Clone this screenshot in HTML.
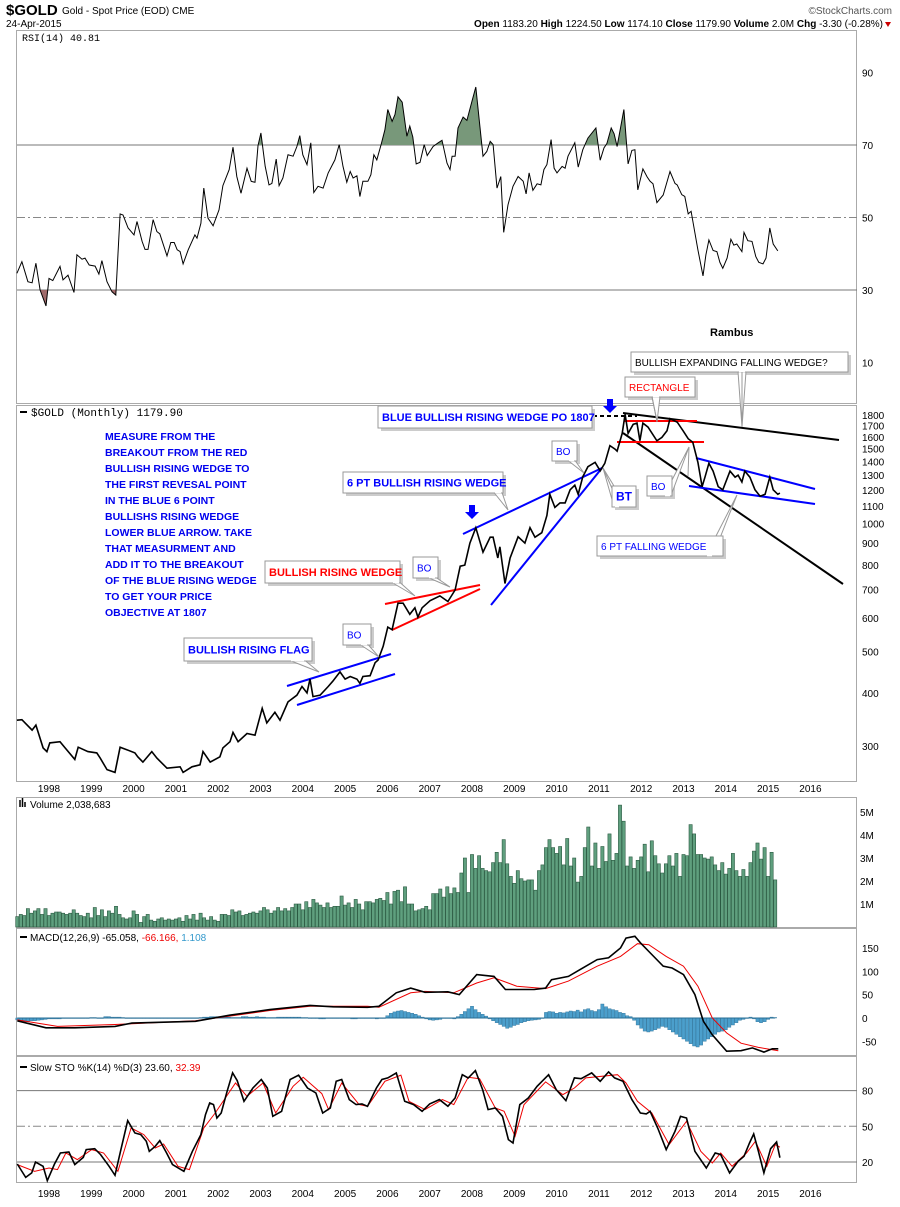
<!DOCTYPE html>
<html><head><meta charset="utf-8"><style>
body{margin:0;background:#fff;}
svg{display:block;font-family:"Liberation Sans",sans-serif;}
</style></head><body>
<svg id="c" width="900" height="1207" viewBox="0 0 900 1207"></svg>
<script>
// ---------- data ----------
const priceDates=[1997.24,1997.36,1997.60,1997.69,1997.86,1997.95,1998.02,1998.26,1998.38,1998.61,1998.69,1998.92,1999.13,1999.21,1999.37,1999.56,1999.68,1999.84,2000.03,2000.10,2000.22,2000.43,2000.55,2000.79,2001.10,2001.17,2001.38,2001.57,2001.64,2001.81,2002.04,2002.11,2002.28,2002.35,2002.47,2002.68,2002.87,2003.04,2003.15,2003.34,2003.46,2003.65,2003.86,2003.98,2004.10,2004.17,2004.24,2004.41,2004.60,2004.71,2004.88,2005.00,2005.12,2005.28,2005.35,2005.42,2005.59,2005.71,2005.78,2005.90,2006.01,2006.11,2006.25,2006.37,2006.53,2006.65,2006.72,2006.82,2007.01,2007.24,2007.43,2007.60,2007.72,2007.83,2007.95,2008.09,2008.26,2008.43,2008.50,2008.61,2008.66,2008.78,2008.90,2009.09,2009.25,2009.37,2009.49,2009.65,2009.77,2009.84,2009.96,2010.08,2010.20,2010.32,2010.43,2010.51,2010.62,2010.74,2010.91,2011.03,2011.14,2011.26,2011.38,2011.43,2011.55,2011.62,2011.69,2011.81,2011.90,2011.97,2012.04,2012.16,2012.37,2012.49,2012.61,2012.68,2012.85,2012.99,2013.11,2013.22,2013.34,2013.44,2013.51,2013.60,2013.70,2013.82,2013.93,2014.10,2014.22,2014.29,2014.38,2014.45,2014.57,2014.69,2014.81,2014.93,2015.04,2015.12,2015.23,2015.28];
const priceValues=[345,346,327,336,297,291,305,307,297,279,298,291,289,281,264,260,298,294,289,283,275,291,281,266,268,260,268,271,291,275,283,297,307,323,307,321,318,368,340,360,345,381,395,414,400,431,392,395,414,426,448,431,437,431,421,437,439,471,478,515,571,563,650,650,612,634,603,634,659,676,656,698,794,799,900,978,857,929,929,830,882,723,830,931,900,978,929,952,1045,1172,1092,1119,1119,1201,1231,1172,1289,1361,1394,1331,1386,1526,1497,1481,1630,1807,1630,1712,1723,1566,1723,1686,1566,1595,1653,1766,1733,1653,1584,1553,1394,1222,1289,1386,1329,1222,1201,1329,1286,1300,1253,1329,1286,1201,1160,1172,1286,1201,1172,1180];
const rsiDates=[1997.24,1997.36,1997.50,1997.60,1997.69,1997.79,1997.93,1998.00,1998.09,1998.26,1998.33,1998.45,1998.59,1998.66,1998.78,1998.85,1998.95,1999.09,1999.18,1999.25,1999.37,1999.49,1999.58,1999.68,1999.75,1999.87,2000.01,2000.08,2000.20,2000.27,2000.34,2000.46,2000.55,2000.62,2000.79,2000.88,2000.96,2001.03,2001.10,2001.17,2001.29,2001.45,2001.50,2001.59,2001.66,2001.76,2001.88,2002.02,2002.11,2002.26,2002.35,2002.44,2002.54,2002.68,2002.78,2002.87,2002.94,2003.01,2003.11,2003.20,2003.27,2003.37,2003.44,2003.53,2003.65,2003.77,2003.86,2003.93,2004.00,2004.10,2004.19,2004.26,2004.36,2004.48,2004.60,2004.76,2004.86,2004.95,2005.04,2005.12,2005.19,2005.28,2005.35,2005.42,2005.54,2005.61,2005.68,2005.75,2005.85,2005.94,2006.01,2006.11,2006.18,2006.25,2006.35,2006.46,2006.53,2006.60,2006.68,2006.77,2006.87,2006.94,2007.08,2007.20,2007.29,2007.41,2007.48,2007.53,2007.60,2007.67,2007.79,2007.88,2008.00,2008.09,2008.26,2008.35,2008.43,2008.50,2008.59,2008.68,2008.75,2008.85,2008.97,2009.09,2009.21,2009.28,2009.35,2009.44,2009.54,2009.63,2009.70,2009.77,2009.87,2009.94,2010.01,2010.13,2010.20,2010.27,2010.43,2010.51,2010.62,2010.74,2010.93,2011.03,2011.12,2011.19,2011.29,2011.36,2011.43,2011.59,2011.69,2011.78,2011.85,2011.92,2012.04,2012.14,2012.21,2012.28,2012.37,2012.52,2012.68,2012.80,2012.85,2012.96,2013.03,2013.11,2013.18,2013.34,2013.46,2013.53,2013.60,2013.70,2013.79,2013.86,2013.93,2014.03,2014.12,2014.19,2014.26,2014.38,2014.43,2014.52,2014.62,2014.71,2014.78,2014.88,2014.95,2015.04,2015.12,2015.23];
const rsiValues=[34.6,37.8,32.3,32.0,37.4,30,25.6,33.2,32.6,36.5,32.8,34.1,29.3,39.7,38.5,38.8,36.9,36.6,34.4,38.1,32.3,29.5,28.6,51.0,50.7,47.1,45.2,48.9,43.4,41.2,41.2,49.4,46.1,45.5,39.4,43.1,43.1,41.1,40.6,37.2,41.1,45.2,44.3,48.4,58.1,49.8,47.7,52.1,58.8,63.2,69.4,61.3,56.7,63.6,60.0,59.7,69.8,73.3,64.1,59.0,59.4,66.1,58.8,60.9,67.3,66.9,69.6,72.6,67.3,64.6,70.6,56.9,58.6,58.1,62.3,65.9,70.1,64.1,59.7,62.7,60.9,61.5,55.8,60.0,60.0,61.8,67.3,65.9,70.1,74.2,79.8,76.5,78.4,83.3,81.8,72.4,75.2,72.2,64.8,65.2,70.1,67.1,69.6,70.6,71.3,65.0,63.2,66.9,66.9,74.7,77.7,76.8,82.1,86.0,66.9,68.2,71.0,70.1,58.1,61.3,45.9,53.5,58.6,61.3,60.0,56.5,62.3,57.5,59.3,59.0,63.2,64.6,71.5,63.6,62.3,64.1,63.6,66.9,70.6,63.9,68.7,71.9,74.7,65.8,69.2,70.4,74.7,73.1,69.6,79.8,64.8,68.5,68.7,57.6,63.4,61.2,60.0,59.3,54.1,56.2,62.7,59.4,59.0,56.3,55.8,51.0,51.7,41.1,33.9,39.7,43.8,40.9,40.6,37.6,36.0,38.8,44.0,42.4,42.7,40.6,45.9,43.6,43.4,39.2,37.6,37.2,38.8,47.1,42.7,40.8];
const volStart=1997.25;
const volumeM=[0.45,0.55,0.5,0.8,0.6,0.7,0.8,0.55,0.8,0.5,0.6,0.65,0.65,0.6,0.55,0.6,0.75,0.6,0.5,0.45,0.6,0.4,0.85,0.5,0.75,0.45,0.7,0.6,0.9,0.55,0.4,0.35,0.4,0.7,0.55,0.2,0.45,0.55,0.3,0.25,0.35,0.4,0.3,0.35,0.3,0.35,0.4,0.25,0.5,0.35,0.55,0.3,0.6,0.4,0.3,0.45,0.3,0.25,0.55,0.55,0.5,0.75,0.65,0.7,0.5,0.55,0.6,0.65,0.6,0.7,0.85,0.75,0.6,0.7,0.85,0.7,0.8,0.7,0.85,1.0,1.0,0.75,1.1,0.85,1.2,1.05,0.95,0.85,1.05,0.85,0.9,0.9,1.35,0.95,1.05,0.85,1.2,1.0,0.75,1.1,1.1,1.05,1.2,1.25,1.15,1.5,1.0,1.55,1.6,1.1,1.75,1.0,1.0,0.7,0.75,0.8,0.9,0.75,1.45,1.45,1.65,1.3,1.75,1.45,1.7,1.5,2.35,3.0,1.5,3.15,2.55,3.1,2.55,2.45,2.4,2.8,3.25,2.8,3.8,2.75,2.2,1.9,2.45,2.1,2.0,2.05,2.05,1.6,2.45,2.7,3.45,3.8,3.45,3.2,3.5,2.7,3.85,2.65,3.0,1.95,2.2,3.45,4.35,2.65,3.65,2.55,3.5,2.85,4.05,2.9,3.2,5.3,4.6,2.65,3.05,2.55,2.9,3.05,3.6,2.4,3.75,3.1,2.75,2.35,2.75,3.1,2.65,3.2,2.2,3.15,3.1,4.45,4.05,3.15,3.15,3.0,2.95,3.05,2.7,2.45,2.8,2.3,2.55,3.2,2.45,2.2,2.5,2.2,2.8,3.3,3.65,2.95,3.45,2.2,3.25,2.05];
const macdDates=[1997.25,1997.93,1998.61,1999.56,1999.96,2001.46,2002.27,2003.22,2004.17,2004.72,2005.53,2005.80,2006.21,2006.55,2006.89,2007.43,2007.70,2008.11,2008.52,2008.79,2009.06,2009.47,2009.74,2009.88,2010.28,2010.56,2010.96,2011.23,2011.51,2011.64,2011.85,2011.98,2012.25,2012.52,2012.73,2013.00,2013.27,2013.47,2013.68,2014.02,2014.36,2014.63,2014.90,2015.10,2015.24];
const macdValues=[-6,-21,-21,-18,-11,-7,6,18,27,24,23,25,54,64,55,56,50,93,89,61,61,61,64,82,89,104,125,129,150,171,175,161,136,111,107,93,50,-7,-36,-71,-70,-64,-73,-66,-66];
const signalDates=[1997.25,1998.20,1999.56,2001.46,2002.27,2003.22,2004.17,2005.53,2005.80,2006.55,2006.89,2007.57,2008.11,2008.52,2009.06,2009.74,2010.28,2010.96,2011.51,2011.91,2012.18,2012.59,2013.00,2013.34,2013.68,2014.02,2014.36,2014.77,2015.24];
const signalValues=[-4,-18,-14,-6,4,16,25,25,23,54,57,54,75,86,68,63,79,111,132,159,157,132,111,68,0,-32,-54,-63,-70];
const histValues=[-4,-6,-8,-8,-6,-6,-5,-4,-3,-2,-2,-2,-2,-1,-1,0,0,-1,-1,0,0,1,1,0,0,3,3,2,2,2,1,0,0,0,0,0,0,0,0,0,0,0,0,0,0,0,0,0,0,0,0,0,1,2,2,3,3,3,2,2,2,1,1,1,3,3,2,2,3,2,2,1,1,1,2,2,2,2,2,2,2,1,1,0,0,-1,-2,-2,-1,-1,-1,0,-1,-1,-1,-2,-2,-1,-1,0,0,-1,-2,-1,0,5,10,13,15,16,14,12,10,8,5,2,-2,-4,-5,-4,-3,-1,0,-1,-2,3,8,14,20,25,18,12,8,4,-2,-6,-10,-14,-18,-22,-20,-16,-14,-10,-8,-6,-5,-4,-3,-1,12,14,13,10,12,11,13,15,14,17,13,18,20,16,14,18,30,24,20,18,16,12,10,5,3,-5,-15,-22,-28,-30,-28,-25,-22,-18,-20,-25,-30,-35,-40,-45,-50,-55,-60,-62,-58,-50,-45,-40,-35,-30,-28,-25,-20,-15,-10,-5,-3,-1,2,-2,-8,-10,-8,-3,2,1];
const stoKDates=[1997.25,1997.45,1997.59,1997.68,1997.86,1997.96,1998.13,1998.27,1998.47,1998.61,1998.81,1998.88,1999.08,1999.22,1999.42,1999.56,1999.69,1999.86,2000.03,2000.17,2000.30,2000.37,2000.51,2000.62,2000.78,2000.92,2001.19,2001.39,2001.59,2001.70,2001.80,2001.89,2001.97,2002.07,2002.21,2002.34,2002.45,2002.61,2002.82,2003.02,2003.16,2003.29,2003.50,2003.70,2003.90,2004.11,2004.31,2004.47,2004.65,2004.79,2004.92,2005.10,2005.26,2005.40,2005.53,2005.74,2005.87,2006.01,2006.21,2006.41,2006.62,2006.82,2007.00,2007.23,2007.43,2007.60,2007.77,2007.91,2008.08,2008.25,2008.38,2008.55,2008.72,2008.86,2008.97,2009.13,2009.33,2009.54,2009.81,2009.99,2010.22,2010.42,2010.58,2010.83,2011.03,2011.23,2011.37,2011.57,2011.78,2011.98,2012.12,2012.21,2012.39,2012.59,2012.80,2012.93,2013.07,2013.27,2013.54,2013.75,2013.88,2014.09,2014.29,2014.43,2014.56,2014.66,2014.77,2014.90,2015.06,2015.20,2015.28];
const stoKValues=[18.3,7.1,10.8,20,16.4,4.3,18.3,27.6,28.4,17.8,23.9,30.4,31.2,26.2,16.4,8.8,29,54.8,44.4,43,37.4,29,33.2,38,27.6,17.8,12.2,29,43,59.8,69.6,68.2,57,61.2,79.4,94.9,88.4,71,82.2,89.3,82.2,58.4,62.6,89.3,92.9,82.2,78,61.2,65.4,87.8,89.3,72.4,68.2,68.8,66.8,82.2,89.3,90.7,94.9,71,68.2,62.6,68.8,72.4,66.8,73.8,93.4,90.6,96.8,80.8,64,65.4,58.4,38.8,36,68.2,73.8,83.6,93.4,80.8,71.6,90.7,90,94.9,87.8,95.7,90.7,87.8,72.4,61.2,60.4,62.6,48.6,30.4,45.8,58.4,57,29,15,27.6,26.2,10.8,20.6,24.8,36,43.6,29,10.8,31.2,36.8,23.6];
const stoDDates=[1997.25,1997.66,1998.00,1998.20,1998.40,1998.67,1999.01,1999.29,1999.63,1999.94,2000.24,2000.51,2000.71,2001.05,2001.32,2001.66,2001.93,2002.41,2002.68,2003.06,2003.36,2003.77,2004.01,2004.45,2004.61,2004.92,2005.33,2005.53,2005.94,2006.32,2006.51,2006.89,2007.30,2007.57,2007.91,2008.18,2008.55,2008.76,2009.02,2009.23,2009.74,2010.15,2010.42,2010.69,2011.44,2011.64,2011.91,2012.25,2012.66,2013.07,2013.41,2013.68,2013.88,2014.15,2014.49,2014.70,2014.97,2015.17,2015.28];
const stoDValues=[17.8,12.2,15,13.6,27.6,22,30.4,27.6,12.2,48.6,43,31.8,35.1,16.4,13.6,48.6,61.2,86.4,75.2,86.4,61.2,83.6,91.2,77.5,64,86.4,68.2,66.8,87.8,92.9,71,64,72.4,68.2,91.2,90,65.4,62.6,41.6,68.2,87.3,76.6,82.2,90.7,93.4,86.4,71,61.2,34.6,54.2,29,19.2,27.6,16.4,27.6,37.4,16.4,34.6,32.4];
const yearLabels=[1998,1999,2000,2001,2002,2003,2004,2005,2006,2007,2008,2009,2010,2011,2012,2013,2014,2015,2016];
const priceTicks=[1800,1700,1600,1500,1400,1300,1200,1100,1000,900,800,700,600,500,400,300];
const rsiTicks=[90,70,50,30,10];
const volTicks=[5,4,3,2,1];
const macdTicks=[150,100,50,0,-50];
const stoTicks=[80,50,20];

// ---------- scales ----------
const X=t=>49+(t-1998)*42.3;
const Yp=p=>746-Math.log(p/300)*184.7;
const Yr=v=>290-(v-30)*3.625;
const Yv=m=>927-m*23;
const Ym=v=>1018-v*0.467;
const Ys=v=>1162-(v-20)*1.19;

const svg=document.getElementById('c');
const NS='http://www.w3.org/2000/svg';
function el(tag,at,parent){const e=document.createElementNS(NS,tag);for(const k in at)e.setAttribute(k,at[k]);(parent||svg).appendChild(e);return e;}
function txt(s,x,y,at){const e=el('text',Object.assign({x:x,y:y,'font-size':11,fill:'#000'},at||{}));e.textContent=s;return e;}
function pts(ds,vs,fy){return ds.map((d,i)=>X(d).toFixed(1)+','+fy(vs[i]).toFixed(1)).join(' ');}

// header
let t1=txt('$GOLD',6,15,{'font-size':15,'font-weight':'bold'});

let t2=txt('Gold - Spot Price (EOD) CME',62,14,{'font-size':10});

let t3=txt('©StockCharts.com',892,14,{'font-size':10,'text-anchor':'end',fill:'#555'});

let t4=txt('24-Apr-2015',6,27,{'font-size':10});

let ohlc=el('text',{x:883,y:27,'font-size':10,'text-anchor':'end'});

[['Open ',1],['1183.20 ',0],['High ',1],['1224.50 ',0],['Low ',1],['1174.10 ',0],['Close ',1],['1179.90 ',0],['Volume ',1],['2.0M ',0],['Chg ',1],['-3.30 (-0.28%)',0]].forEach(p=>{const s=el('tspan',{'font-weight':p[1]?'bold':'normal'},ohlc);s.textContent=p[0];});
el('path',{d:'M885,22 L891,22 L888,27 Z',fill:'#c00'});

// panels
const panels=[['rsi-panel',30,403],['price-panel',405,781],['volume-panel',797,927],['macd-panel',928,1055],['sto-panel',1056,1182]];
panels.forEach(p=>{const r=el('rect',{x:16.5,y:p[1]+.5,width:840,height:p[2]-p[1],fill:'none',stroke:'#aaa'});});

// year labels
[788,1193].forEach((yy,k)=>{yearLabels.forEach(yr=>{const l=txt(String(yr),X(yr),yy+4,{'font-size':10,'text-anchor':'middle'});});});

// ---- RSI ----
let rl=txt('RSI(14) 40.81',22,41,{'font-size':10,'font-family':'Liberation Mono, monospace'});

rsiTicks.forEach(v=>{const l=txt(String(v),862,Yr(v)+4,{'font-size':10});});
[70,30].forEach(v=>el('line',{x1:17,x2:857,y1:Yr(v),y2:Yr(v),stroke:'#777'}));
el('line',{x1:17,x2:857,y1:Yr(50),y2:Yr(50),stroke:'#888','stroke-dasharray':'8,3,2,3'});
const rp=pts(rsiDates,rsiValues,Yr);
const x0=X(rsiDates[0]),x1=X(rsiDates[rsiDates.length-1]);
el('clipPath',{id:'above70'}).appendChild(Object.assign(document.createElementNS(NS,'rect'),{}));
document.querySelector('#above70 rect').setAttribute('x',0);
document.querySelector('#above70 rect').setAttribute('y',0);
document.querySelector('#above70 rect').setAttribute('width',900);
document.querySelector('#above70 rect').setAttribute('height',Yr(70));
const cb=el('clipPath',{id:'below30'});el('rect',{x:0,y:Yr(30),width:900,height:200},cb);
let ga=el('polygon',{points:x0+','+Yr(70)+' '+rp+' '+x1+','+Yr(70),fill:'#78987a','clip-path':'url(#above70)'});

let gb=el('polygon',{points:x0+','+Yr(30)+' '+rp+' '+x1+','+Yr(30),fill:'#a06a6a','clip-path':'url(#below30)'});

let rline=el('polyline',{points:rp,fill:'none',stroke:'#000','stroke-width':1});

let rb=txt('Rambus',710,336,{'font-size':11,'font-weight':'bold'});


// ---- Price ----
priceTicks.forEach(v=>{const l=txt(String(v),862,Yp(v)+4,{'font-size':10});});
el('line',{x1:20,x2:27,y1:412,y2:412,stroke:'#000','stroke-width':2});
let pl=txt('$GOLD (Monthly) 1179.90',31,416,{'font-size':11,'font-family':'Liberation Mono, monospace'});


function line(a,b,c,d,col,w,name,dash){const l=el('line',{x1:a,y1:b,x2:c,y2:d,stroke:col,'stroke-width':w});if(dash)l.setAttribute('stroke-dasharray',dash);return l;}
function box(x,y,w,h,label,col,bold,name,px1,px2,tx,ty,fs){
  const g=el('g',{});
  el('rect',{x:x+3,y:y+3,width:w,height:h,fill:'#ccc'},g);
  if(tx!==undefined){el('polygon',{points:px1+','+(y+h-0.5)+' '+tx+','+ty+' '+px2+','+(y+h-0.5),fill:'#fff',stroke:'#999'},g);}
  el('rect',{x:x,y:y,width:w,height:h,fill:'#fff',stroke:'#999'},g);
  if(tx!==undefined)el('line',{x1:px1+1,x2:px2-1,y1:y+h-0.5,y2:y+h-0.5,stroke:'#fff','stroke-width':1.5},g);
  const t=el('text',{x:x+4,y:y+h/2+4,'font-size':fs||11,fill:col,'font-weight':bold?'bold':'normal'},g);t.textContent=label;
}
// trendlines
line(287,686,391,654,'#00f',2,'flag-upper-line');
line(297,705,395,674,'#00f',2,'flag-lower-line');
line(385,604,480,585,'#f00',2,'red-wedge-upper-line');
line(392,630,480,589,'#f00',2,'red-wedge-lower-line');
line(463,534,602,468,'#00f',2,'blue-wedge-upper-line');
line(491,605,602,468,'#00f',2,'blue-wedge-lower-line');
line(623,413,839,440,'#000',2,'expanding-wedge-upper-line');
line(623,433,843,584,'#000',2,'expanding-wedge-lower-line');
line(624,421,697,421,'#f00',2,'rectangle-top-line');
line(617,442,704,442,'#f00',2,'rectangle-bottom-line');
line(696,458,815,489,'#00f',2,'falling-wedge-upper-line');
line(689,486,815,504,'#00f',2,'falling-wedge-lower-line');
line(593,416,637,416,'#000',2,'price-objective-line','4,3');
// price line
let pline=el('polyline',{points:pts(priceDates,priceValues,Yp),fill:'none',stroke:'#000','stroke-width':1.6});

// arrows
function arrow(x,y,name){const a=el('path',{d:`M${x-3},${y} h6 v7 h4 l-7,7 l-7,-7 h4 z`,fill:'#00f'});}
arrow(472,505,'blue-arrow-2008');arrow(610,399,'blue-arrow-2011');
// annotation boxes
box(184,638,128,23,'BULLISH RISING FLAG','#00f',1,'flag-label',290,305,319,672);
box(343,624,28,21,'BO','#00f',0,'bo-label-1',360,368,379,657,10);
box(265,561,135,22,'BULLISH RISING WEDGE','#f00',1,'red-wedge-label',392,400,415,596);
box(413,557,25,21,'BO','#00f',0,'bo-label-2',428,436,450,587,10);
box(343,472,160,21,'6 PT BULLISH RISING WEDGE','#00f',1,'blue-wedge-label',494,502,508,510);
box(378,406,214,22,'BLUE BULLISH RISING WEDGE PO 1807','#00f',1,'price-objective-label');
box(552,441,25,20,'BO','#00f',0,'bo-label-3',568,575,584,473,10);
box(612,486,24,21,'BT','#00f',1,'bt-label',614,620,603,468,12);
box(625,377,70,20,'RECTANGLE','#f00',0,'rectangle-label',652,660,657,422,10);
box(631,352,217,20,'BULLISH EXPANDING FALLING WEDGE?','#000',0,'expanding-wedge-label',738,746,742,427,10);
box(647,476,25,20,'BO','#00f',0,'bo-label-4',664,671,689,447,10);
box(597,536,126,20,'6 PT FALLING WEDGE','#00f',0,'falling-wedge-label',706,713,737,495,10);
// arrow pointer lines drawn over boxes (leaders above boxes)
line(652,397,657,421,'#999',1,'rectangle-pointer');
line(742,372,742,427,'#999',1,'expanding-wedge-pointer');
line(614,486,603,468,'#999',1,'bt-pointer');
line(688,476,689,447,'#999',1,'bo-4-pointer');
// note
const note=['MEASURE FROM THE','BREAKOUT FROM THE RED','BULLISH RISING WEDGE TO','THE FIRST REVESAL POINT','IN THE BLUE 6 POINT','BULLISHS RISING WEDGE','LOWER BLUE ARROW. TAKE','THAT MEASURMENT AND','ADD IT TO THE BREAKOUT','OF THE BLUE RISING WEDGE','TO GET YOUR PRICE','OBJECTIVE AT 1807'];
const ng=el('g',{});
note.forEach((s,i)=>{const t=el('text',{x:105,y:440+i*16,'font-size':10.5,'font-weight':'bold',fill:'#0000ee'},ng);t.textContent=s;});

// ---- Volume ----
let vl=txt('Volume 2,038,683',30,808,{'font-size':10});

el('path',{d:'M20,807 v-7 M22.5,807 v-9 M25,807 v-5',stroke:'#000','stroke-width':1.5});
volTicks.forEach(v=>{const l=txt(v+'M',860,Yv(v)+4,{'font-size':10});});
volumeM.forEach((m,i)=>{const x=X(volStart+i/12);const b=el('rect',{x:(x-1.6).toFixed(1),y:Yv(m).toFixed(1),width:3.2,height:(927-Yv(m)).toFixed(1),fill:'#5f9f7e',stroke:'#2b5a42','stroke-width':0.6});

});

// ---- MACD ----
const ml=el('text',{x:30,y:941,'font-size':10});
[['MACD(12,26,9) -65.058, ','#000'],['-66.166, ','#e00'],['1.108','#39c']].forEach(p=>{const s=el('tspan',{fill:p[1]},ml);s.textContent=p[0];});
el('line',{x1:20,x2:27,y1:937,y2:937,stroke:'#000','stroke-width':2});
macdTicks.forEach(v=>{const l=txt(String(v),862,Ym(v)+4,{'font-size':10});});
histValues.forEach((v,i)=>{const x=X(volStart+i/12);const y0=Ym(0),y1=Ym(v);const b=el('rect',{x:(x-1.6).toFixed(1),y:Math.min(y0,y1).toFixed(1),width:3.2,height:Math.max(0.5,Math.abs(y1-y0)).toFixed(1),fill:'#4b9fcc',stroke:'#2a6f96','stroke-width':0.4});

});
el('line',{x1:X(volStart),x2:X(volStart+(histValues.length-1)/12),y1:Ym(0),y2:Ym(0),stroke:'#2a6f96'});
let sl=el('polyline',{points:pts(signalDates,signalValues,Ym),fill:'none',stroke:'#e00','stroke-width':1});

let mline=el('polyline',{points:pts(macdDates,macdValues,Ym),fill:'none',stroke:'#000','stroke-width':1.6});


// ---- STO ----
const stl=el('text',{x:30,y:1071,'font-size':10});
[['Slow STO %K(14) %D(3) 23.60, ','#000'],['32.39','#e00']].forEach(p=>{const s=el('tspan',{fill:p[1]},stl);s.textContent=p[0];});
el('line',{x1:20,x2:27,y1:1067,y2:1067,stroke:'#000','stroke-width':2});
stoTicks.forEach(v=>{const l=txt(String(v),862,Ys(v)+4,{'font-size':10});});
[80,20].forEach(v=>el('line',{x1:17,x2:857,y1:Ys(v),y2:Ys(v),stroke:'#777'}));
el('line',{x1:17,x2:857,y1:Ys(50),y2:Ys(50),stroke:'#888','stroke-dasharray':'8,3,2,3'});
let dl=el('polyline',{points:pts(stoDDates,stoDValues,Ys),fill:'none',stroke:'#e00','stroke-width':1});

let kl=el('polyline',{points:pts(stoKDates,stoKValues,Ys),fill:'none',stroke:'#000','stroke-width':1.6});

</script>
</body></html>
